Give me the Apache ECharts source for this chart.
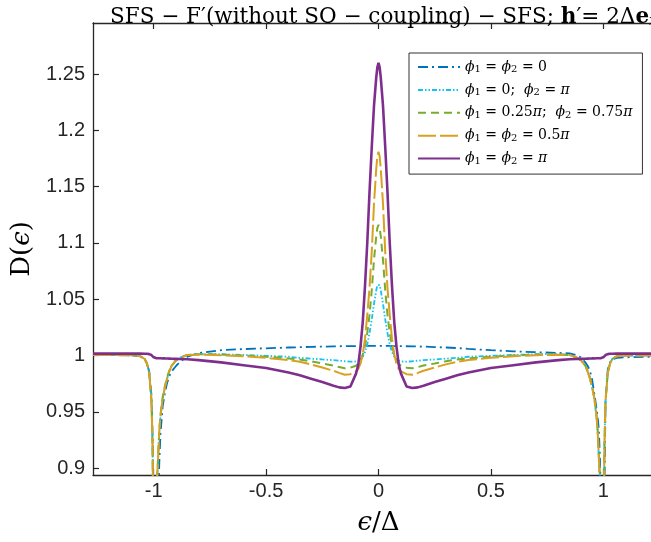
<!DOCTYPE html>
<html><head><meta charset="utf-8">
<script src="https://cdn.jsdelivr.net/npm/echarts@6/dist/echarts.min.js"></script>
<style>html,body{margin:0;padding:0;background:#fff}#c{width:651px;height:542px}</style>
</head><body><div id="c"></div>
<script>
// energy grid eps/Delta
const xs = [-1.27,-1.2,-1.1,-1.06,-1.04,-1.03,-1.02,-1.01,-1.005,-1.0,-0.995,-0.99,-0.985,-0.98,-0.975,-0.97,-0.96,-0.95,-0.94,-0.93,-0.92,-0.9,-0.88,-0.85,-0.8,-0.7,-0.6,-0.5,-0.4,-0.35,-0.3,-0.25,-0.2,-0.175,-0.15,-0.125,-0.1,-0.09,-0.08,-0.07,-0.06,-0.05,-0.04,-0.03,-0.02,-0.01,-0.005,0,
  0.005,0.01,0.02,0.03,0.04,0.05,0.06,0.07,0.08,0.09,0.1,0.125,0.15,0.175,0.2,0.25,0.3,0.35,0.4,0.5,0.6,0.7,0.8,0.85,0.88,0.9,0.92,0.93,0.94,0.95,0.96,0.97,0.975,0.98,0.985,0.99,0.995,1.0,1.005,1.01,1.02,1.03,1.04,1.06,1.1,1.2,1.27];

const dBlue = [1.0005,1.0005,1.0003,0.9995,0.997,0.993,0.986,0.965,0.93,0.85,0.75,0.78,0.83,0.87,0.905,0.93,0.955,0.967,0.976,0.982,0.986,0.991,0.995,0.999,1.0022,1.0048,1.0058,1.0065,1.0072,1.0075,1.0078,1.008,1.0082,1.0083,1.0084,1.0084,1.0085,1.0085,1.0085,1.0086,1.0086,1.0086,1.0087,1.0087,1.0087,1.0087,1.0087,1.0087,
  1.0087,1.0087,1.0087,1.0086,1.0086,1.0086,1.0085,1.0085,1.0085,1.0084,1.0084,1.0083,1.0082,1.0081,1.008,1.0076,1.0072,1.0067,1.006,1.0048,1.0038,1.003,1.0024,1.002,1.0005,0.9985,0.994,0.991,0.987,0.979,0.966,0.953,0.945,0.935,0.91,0.86,0.78,0.75,0.88,0.96,0.988,0.994,0.9965,0.998,0.9985,0.999,0.999];

const dCyan = [1.0005,1.0005,1.0003,0.9995,0.997,0.993,0.985,0.96,0.92,0.8,0.82,0.86,0.89,0.91,0.932,0.945,0.962,0.972,0.98,0.986,0.991,0.996,0.9985,1.0005,1.0013,1.0012,1.0006,0.9998,0.999,0.998,0.9973,0.9966,0.996,0.9955,0.995,0.9946,0.9948,0.9955,0.9968,0.999,1.003,1.01,1.02,1.032,1.046,1.058,1.0625,1.064,
  1.0625,1.058,1.046,1.032,1.02,1.01,1.003,0.999,0.9968,0.9955,0.9948,0.9946,0.995,0.9955,0.996,0.9966,0.9973,0.998,0.999,0.9998,1.0006,1.0012,1.0013,1.0005,0.9985,0.996,0.991,0.986,0.98,0.972,0.962,0.945,0.932,0.91,0.89,0.86,0.82,0.8,0.92,0.96,0.985,0.993,0.997,0.9995,1.0,1.0,1.0];

const dGreen = [1.0005,1.0005,1.0003,0.9995,0.997,0.993,0.985,0.96,0.92,0.8,0.82,0.86,0.89,0.912,0.934,0.947,0.963,0.973,0.981,0.987,0.991,0.996,0.9985,1.0005,1.0012,1.001,1.0,0.999,0.9975,0.9966,0.995,0.993,0.9912,0.9898,0.9887,0.9893,0.991,0.993,0.996,1.001,1.009,1.02,1.036,1.058,1.085,1.106,1.1135,1.116,
  1.1135,1.106,1.085,1.058,1.036,1.02,1.009,1.001,0.996,0.993,0.991,0.9893,0.9887,0.9898,0.9912,0.993,0.995,0.9966,0.9975,0.999,1.0,1.001,1.0012,1.0005,0.9985,0.996,0.991,0.987,0.981,0.973,0.963,0.947,0.934,0.912,0.89,0.86,0.82,0.8,0.92,0.96,0.985,0.993,0.997,0.9995,1.0,1.0,1.0];

const dGold = [1.0005,1.0005,1.0003,0.9995,0.997,0.993,0.985,0.96,0.92,0.8,0.82,0.86,0.89,0.911,0.933,0.946,0.962,0.972,0.98,0.986,0.991,0.996,0.9985,1.0005,1.0008,1.0003,0.9995,0.998,0.996,0.9945,0.9922,0.9895,0.9865,0.9847,0.983,0.9835,0.986,0.988,0.993,1.001,1.015,1.036,1.06,1.092,1.135,1.166,1.177,1.181,
  1.177,1.166,1.135,1.092,1.06,1.036,1.015,1.001,0.993,0.988,0.986,0.9835,0.983,0.9847,0.9865,0.9895,0.9922,0.9945,0.996,0.998,0.9995,1.0003,1.0008,1.0005,0.9985,0.996,0.991,0.986,0.98,0.972,0.962,0.946,0.933,0.911,0.89,0.86,0.82,0.8,0.92,0.96,0.985,0.993,0.997,0.9995,1.0,1.0,1.0];

const dPurple = [1.0018,1.0018,1.0018,1.0018,1.0017,1.0016,1.0013,1.0005,0.9995,0.9985,0.998,0.9978,0.9977,0.9977,0.9976,0.9976,0.9975,0.9975,0.9974,0.9973,0.9972,0.9971,0.997,0.9967,0.996,0.994,0.9915,0.989,0.985,0.9825,0.9795,0.9765,0.9733,0.9718,0.9712,0.9725,0.984,0.992,1.008,1.03,1.062,1.1,1.145,1.185,1.222,1.247,1.256,1.26,
  1.256,1.247,1.222,1.185,1.145,1.1,1.062,1.03,1.008,0.992,0.984,0.9725,0.9712,0.9718,0.9733,0.9765,0.9795,0.9825,0.985,0.989,0.9915,0.994,0.996,0.9967,0.997,0.9971,0.9972,0.9973,0.9974,0.9975,0.9975,0.9976,0.9976,0.9977,0.9977,0.9978,0.998,0.9985,0.9995,1.0005,1.0013,1.0016,1.0017,1.0018,1.0018,1.0018,1.0018];

const seriesNames = ['ϕ₁ = ϕ₂ = 0','ϕ₁ = 0;  ϕ₂ = π','ϕ₁ = 0.25π;  ϕ₂ = 0.75π','ϕ₁ = ϕ₂ = 0.5π','ϕ₁ = ϕ₂ = π'];
const xTicks = [-1,-0.5,0,0.5,1];
const yTicks = [0.9,0.95,1,1.05,1.1,1.15,1.2,1.25];

const seriesData = [dBlue,dCyan,dGreen,dGold,dPurple];
const styles = [
  {color:'#0072BD', width:1.8, type:[10,4,2,4]},
  {color:'#14C3F2', width:1.8, type:[5,2,1.5,2,1.5,2]},
  {color:'#77AC30', width:2.0, type:[8,5]},
  {color:'#D9A021', width:2.0, type:[18,4]},
  {color:'#7E2F8E', width:2.6, type:'solid'}
];

const serif = 'DejaVu Serif';
const sans = 'Liberation Sans';
const axisCol = '#262626';

function richName(name){
  let s = name.replace(/ϕ₁/g,'}{i|ϕ}{s|1}{n|').replace(/ϕ₂/g,'}{i|ϕ}{s|2}{n|').replace(/π/g,'}{i|π}{n|');
  return '{n|' + s + '}';
}

const chart = echarts.init(document.getElementById('c'), null, {renderer:'canvas'});
chart.setOption({
  animation:false,
  backgroundColor:'#fff',
  title:{
    text:'{n|SFS − F′(without SO − coupling) − SFS; }{b|h}{n|′= 2Δ}{b|e}{s|x}',
    left:378.5, top:1, textAlign:'center',
    textStyle:{
      fontWeight:'normal',
      rich:{
        n:{fontFamily:serif,fontSize:21.5,fontWeight:'normal',color:'#000',lineHeight:22},
        b:{fontFamily:serif,fontSize:21.5,fontWeight:'bold',color:'#000',lineHeight:22},
        s:{fontFamily:serif,fontSize:14,fontStyle:'italic',fontWeight:'normal',color:'#000',verticalAlign:'bottom',lineHeight:8}
      }
    }
  },
  grid:{left:93, top:23, width:571, height:452, containLabel:false, outerBoundsMode:'none'},
  legend:{
    orient:'vertical', left:409, top:53,
    data:seriesNames,
    itemWidth:42, itemHeight:15, itemGap:8.4,
    padding:[7,10,8,8],
    borderColor:'#333', borderWidth:1, backgroundColor:'#fff', borderRadius:0,
    itemStyle:{opacity:0},
    formatter: richName,
    textStyle:{
      rich:{
        n:{fontFamily:serif,fontSize:14,color:'#000',lineHeight:15},
        i:{fontFamily:serif,fontSize:14,fontStyle:'italic',color:'#000',lineHeight:15},
        s:{fontFamily:serif,fontSize:10,color:'#000',verticalAlign:'bottom',lineHeight:6}
      }
    }
  },
  xAxis:[{
    type:'value', min:-1.27, max:1.27, position:'bottom',
    name:'{i|ϵ}{n|/Δ}', nameLocation:'middle', nameGap:35,
    nameTextStyle:{rich:{
      n:{fontFamily:serif,fontSize:26,color:'#000'},
      i:{fontFamily:serif,fontSize:26,fontStyle:'italic',color:'#000'}}},
    axisLine:{show:true,onZero:false,lineStyle:{color:axisCol,width:1.3}},
    axisTick:{show:true,inside:true,length:6,customValues:xTicks,lineStyle:{color:axisCol,width:1.2}},
    axisLabel:{show:true,margin:6,customValues:xTicks,fontFamily:sans,fontSize:20,color:axisCol},
    splitLine:{show:false}
  },{
    type:'value', min:-1.27, max:1.27, position:'top',
    axisLine:{show:true,onZero:false,lineStyle:{color:axisCol,width:1.3}},
    axisTick:{show:true,inside:true,length:6,customValues:xTicks,lineStyle:{color:axisCol,width:1.2}},
    axisLabel:{show:false},
    splitLine:{show:false}
  }],
  yAxis:[{
    type:'value', min:0.894, max:1.2953, position:'left',
    name:'{n|D(}{i|ϵ}{n|)}', nameLocation:'middle', nameGap:48, nameRotate:90,
    nameTextStyle:{rich:{
      n:{fontFamily:serif,fontSize:26,color:'#000'},
      i:{fontFamily:serif,fontSize:26,fontStyle:'italic',color:'#000'}}},
    axisLine:{show:true,onZero:false,lineStyle:{color:axisCol,width:1.3}},
    axisTick:{show:true,inside:true,length:6,customValues:yTicks,lineStyle:{color:axisCol,width:1.2}},
    axisLabel:{show:true,margin:8,customValues:yTicks,fontFamily:sans,fontSize:20,color:axisCol},
    splitLine:{show:false}
  }],
  series: seriesData.map((arr,k)=>({
    name:seriesNames[k], type:'line', xAxisIndex:0, yAxisIndex:0,
    data: xs.map((x,i)=>[x,arr[i]]),
    symbol:'none', showSymbol:false, smooth:false, clip:true,
    lineStyle:styles[k], itemStyle:{color:styles[k].color},
    z:2+k
  }))
});
</script></body></html>
